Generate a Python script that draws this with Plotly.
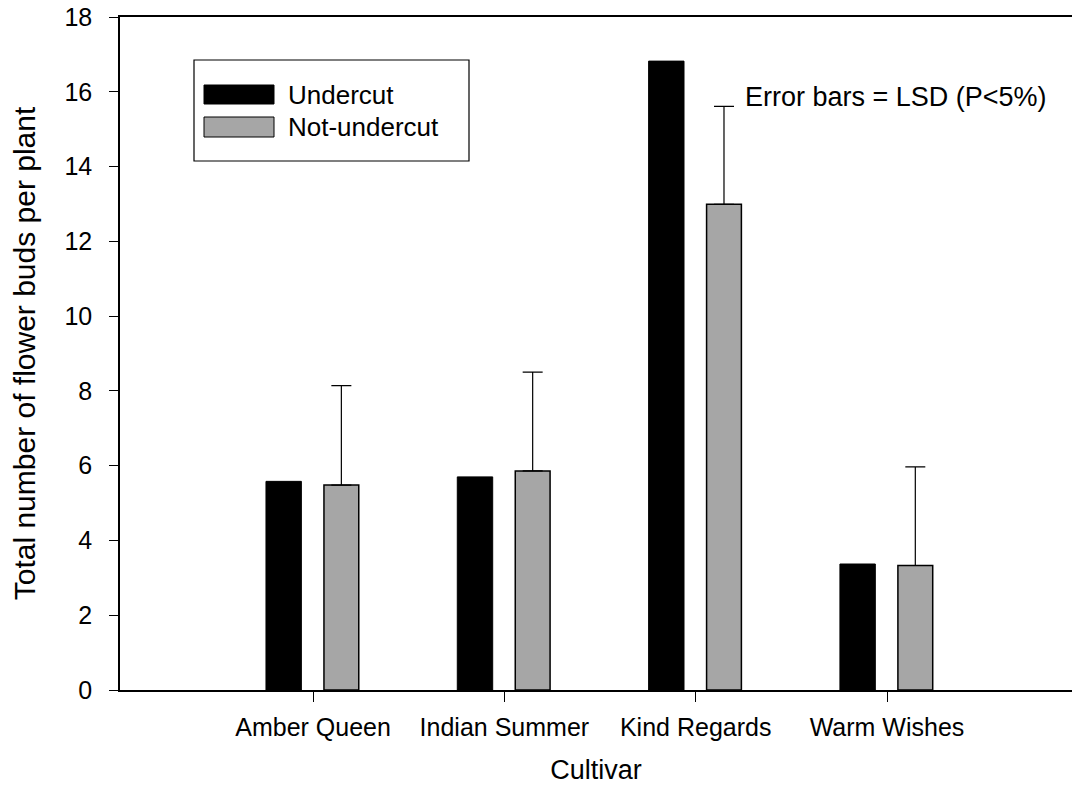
import plotly.graph_objects as go

# ---- data ----
cultivars = ["Amber Queen", "Indian Summer", "Kind Regards", "Warm Wishes"]
undercut = [5.58, 5.70, 16.82, 3.37]
not_undercut = [5.48, 5.86, 12.99, 3.33]
lsd = [2.66, 2.64, 2.62, 2.64]
y_ticks = [0, 2, 4, 6, 8, 10, 12, 14, 16, 18]

FONT = "Liberation Sans, Arial, sans-serif"
GRAY = "#a6a6a6"
xpos = list(range(len(cultivars)))

fig = go.Figure()
fig.add_trace(go.Bar(
    x=xpos, y=undercut, name="Undercut",
    width=0.185, offset=-0.246,
    marker=dict(color="black", line=dict(color="black", width=1)),
    showlegend=False,
))
fig.add_trace(go.Bar(
    x=xpos, y=not_undercut, name="Not-undercut",
    width=0.182, offset=0.057,
    marker=dict(color=GRAY, line=dict(color="black", width=1.5)),
    error_y=dict(type="data", array=lsd, arrayminus=[0] * len(lsd),
                 symmetric=False, color="black", thickness=1.2, width=10),
    showlegend=False,
))

L, R, T, B = 120, 2, 17, 110
W, H = 1074, 800
PW, PH = W - L - R, H - T - B


def px(x):
    return (x - L) / PW


def py(y):
    return (H - B - y) / PH


shapes = [
    dict(type="rect", xref="paper", yref="paper", x0=px(194), x1=px(469), y0=py(161), y1=py(60),
         line=dict(color="black", width=1.2), fillcolor="white", layer="above"),
    dict(type="rect", xref="paper", yref="paper", x0=px(204), x1=px(274), y0=py(104), y1=py(85),
         line=dict(color="black", width=1), fillcolor="black", layer="above"),
    dict(type="rect", xref="paper", yref="paper", x0=px(204), x1=px(274), y0=py(137), y1=py(117),
         line=dict(color="black", width=1), fillcolor=GRAY, layer="above"),
]
annotations = [
    dict(text="Undercut", xref="paper", yref="paper", x=px(286), y=py(95), xanchor="left",
         yanchor="middle", showarrow=False, font=dict(family=FONT, size=26, color="black")),
    dict(text="Not-undercut", xref="paper", yref="paper", x=px(286), y=py(127), xanchor="left",
         yanchor="middle", showarrow=False, font=dict(family=FONT, size=26, color="black")),
    dict(text="Error bars = LSD (P<5%)", xref="paper", yref="paper", x=px(743), y=py(97),
         xanchor="left", yanchor="middle", showarrow=False,
         font=dict(family=FONT, size=27, color="black")),
]

fig.update_layout(
    width=W, height=H,
    margin=dict(l=L, r=R, t=T, b=B, autoexpand=False),
    plot_bgcolor="white", paper_bgcolor="white",
    font=dict(family=FONT, color="black"),
    barmode="overlay",
    shapes=shapes, annotations=annotations,
    xaxis=dict(
        range=[-1.009, 3.967], tickmode="array", tickvals=xpos, ticktext=cultivars,
        showline=True, linecolor="black", linewidth=1.5, mirror=True, automargin=False,
        ticks="outside", ticklen=10, tickcolor="black", tickwidth=1,
        showgrid=False, zeroline=False,
        tickfont=dict(family=FONT, size=25, color="black"), ticklabelstandoff=4,
        title=dict(text="Cultivar", font=dict(family=FONT, size=27, color="black"), standoff=20),
    ),
    yaxis=dict(
        range=[0, 18], tickmode="array", tickvals=y_ticks,
        showline=True, linecolor="black", linewidth=1.5, mirror=False, automargin=False,
        ticks="outside", ticklen=9, tickcolor="black", tickwidth=1,
        showgrid=False, zeroline=False, ticklabeloverflow="allow",
        tickfont=dict(family=FONT, size=25, color="black"), ticklabelstandoff=12,
        title=dict(text="Total number of flower buds per plant",
                   font=dict(family=FONT, size=30, color="black"), standoff=20),
    ),
)

fig.write_html(
    "out.html",
    config={"displayModeBar": False},
    post_script="document.body.style.margin='0';document.body.style.overflow='hidden';",
)
